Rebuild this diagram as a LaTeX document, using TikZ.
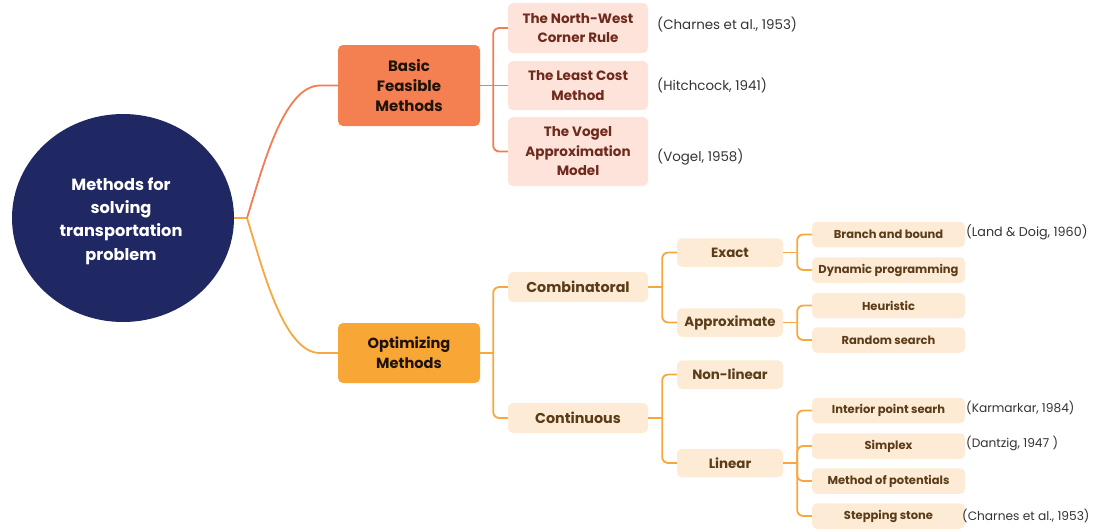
\documentclass[tikz,border=0pt]{standalone}
\usepackage{fontspec}
\setmainfont{Poppins}
\definecolor{navy}{HTML}{1F2863}
\definecolor{coral}{HTML}{F47F50}
\definecolor{corallink}{HTML}{F37D52}
\definecolor{pinkleaf}{HTML}{FDE3DA}
\definecolor{redtext}{HTML}{6E2A1C}
\definecolor{orangebox}{HTML}{F8A636}
\definecolor{orangelink}{HTML}{F7A73E}
\definecolor{peach}{HTML}{FDEBD5}
\definecolor{browntext}{HTML}{5A3C19}
\definecolor{citetext}{HTML}{333333}
\begin{document}
\begin{tikzpicture}[x=1pt,y=-1pt,
  base/.style={rounded corners=5pt, inner sep=0pt, align=center, font=\bfseries},
  mainbox/.style={base, minimum width=142pt, text=black!85!brown},
  redleaf/.style={base, fill=pinkleaf, minimum width=140pt, text=redtext, font=\bfseries\fontsize{13.5}{19.5}\selectfont},
  midbox/.style={base, fill=peach, minimum width=140pt, minimum height=30pt, text=browntext, font=\bfseries\fontsize{14.3}{16}\selectfont},
  subbox/.style={base, fill=peach, minimum width=106pt, minimum height=28.5pt, text=browntext, font=\bfseries\fontsize{13.4}{15}\selectfont},
  leafbox/.style={base, fill=peach, minimum width=153pt, minimum height=25.5pt, text=browntext, font=\bfseries\fontsize{11.5}{13}\selectfont},
  cite/.style={anchor=west, inner sep=0pt, text=citetext, font=\fontsize{13.4}{15}\selectfont},
  smallcite/.style={cite, font=\fontsize{12.2}{14}\selectfont},
  clink/.style={draw=corallink, line width=1.8pt},
  olink/.style={draw=orangelink, line width=1.8pt},
  roundbend/.style={rounded corners=6pt}]
\useasboundingbox (0,0) rectangle (1097,531);

% root
\fill[navy] (123,218) ellipse [x radius=111, y radius=104];
\node[align=center, text=white, font=\bfseries\fontsize{16.2}{23.3}\selectfont] (root) at (121,221)
  {Methods for\\solving\\transportation\\problem};
\coordinate (rootE) at (234,218);
\coordinate (rj) at (247,218);

% first level
\node[mainbox, fill=coral, minimum height=81pt, font=\bfseries\fontsize{15}{20}\selectfont] (b) at (409,85.5) {Basic\\Feasible\\Methods};
\node[mainbox, fill=orangebox, minimum height=60pt, font=\bfseries\fontsize{14.6}{20}\selectfont] (o) at (409,353) {Optimizing\\Methods};

% basic feasible methods
\node[redleaf, minimum height=50pt] (nw) at (578,28) {The North-West\\Corner Rule};
\node[redleaf, minimum height=49pt] (lc) at (578,85.5) {The Least Cost\\Method};
\node[redleaf, minimum height=69pt] (vg) at (578,151.5) {The Vogel\\Approximation\\Model};
\node[cite] (c1) at (657,24) {(Charnes et al., 1953)};
\node[cite] (c2) at (657,85) {(Hitchcock, 1941)};
\node[cite] (c3) at (657,157) {(Vogel, 1958)};

% optimizing methods
\node[midbox] (comb) at (578,287) {Combinatoral};
\node[midbox] (cont) at (578,418) {Continuous};
\node[subbox] (ex) at (730,252.5) {Exact};
\node[subbox] (ap) at (730,322.5) {Approximate};
\node[subbox] (nl) at (730,374.5) {Non-linear};
\node[subbox] (li) at (730,463) {Linear};
\node[leafbox] (bb) at (888.5,234.5) {Branch and bound};
\node[leafbox] (dp) at (888.5,270) {Dynamic programming};
\node[leafbox] (he) at (888.5,305.5) {Heuristic};
\node[leafbox] (rs) at (888.5,340) {Random search};
\node[leafbox] (ip) at (888.5,410.5) {Interior point searh};
\node[leafbox] (sx) at (888.5,446) {Simplex};
\node[leafbox] (mp) at (888.5,481) {Method of potentials};
\node[leafbox] (ss) at (888.5,516) {Stepping stone};
\node[smallcite, font=\fontsize{12.7}{14}\selectfont] (c4) at (966,232) {(Land \& Doig, 1960)};
\node[smallcite] (c5) at (966,408) {(Karmarkar, 1984)};
\node[smallcite] (c6) at (966,443) {(Dantzig, 1947 )};
\node[smallcite] (c7) at (962,516) {(Charnes et al., 1953)};

% root connectors
\draw[olink] (rootE) -- (rj);
\draw[clink] (rj) .. controls (262,170) and (283,85.5) .. (320,85.5) -- (b.west);
\draw[olink] (rj) .. controls (262,266) and (283,353) .. (320,353) -- (o.west);

% basic feasible branch
\draw[clink] (b.east) -- ++(13,0) coordinate (jb);
\foreach \c in {nw,vg} \draw[clink,roundbend] (jb) |- (\c.west);
\draw[clink] (jb) -- (lc.west);

% optimizing branch
\draw[olink] (o.east) -- ++(13,0) coordinate (jo);
\foreach \c in {comb,cont} \draw[olink,roundbend] (jo) |- (\c.west);

\draw[olink] (comb.east) -- ++(14,0) coordinate (jc);
\foreach \c in {ex,ap} \draw[olink,roundbend] (jc) |- (\c.west);

\draw[olink] (cont.east) -- ++(14,0) coordinate (jn);
\foreach \c in {nl,li} \draw[olink,roundbend] (jn) |- (\c.west);

\draw[olink] (ex.east) -- ++(14,0) coordinate (je);
\foreach \c in {bb,dp} \draw[olink,roundbend] (je) |- (\c.west);

\draw[olink] (ap.east) -- ++(14,0) coordinate (ja);
\foreach \c in {he,rs} \draw[olink,roundbend] (ja) |- (\c.west);

\draw[olink] (li.east) -- ++(14,0) coordinate (jl);
\foreach \c in {ip,sx,mp,ss} \draw[olink,roundbend] (jl) |- (\c.west);
\end{tikzpicture}
\end{document}
